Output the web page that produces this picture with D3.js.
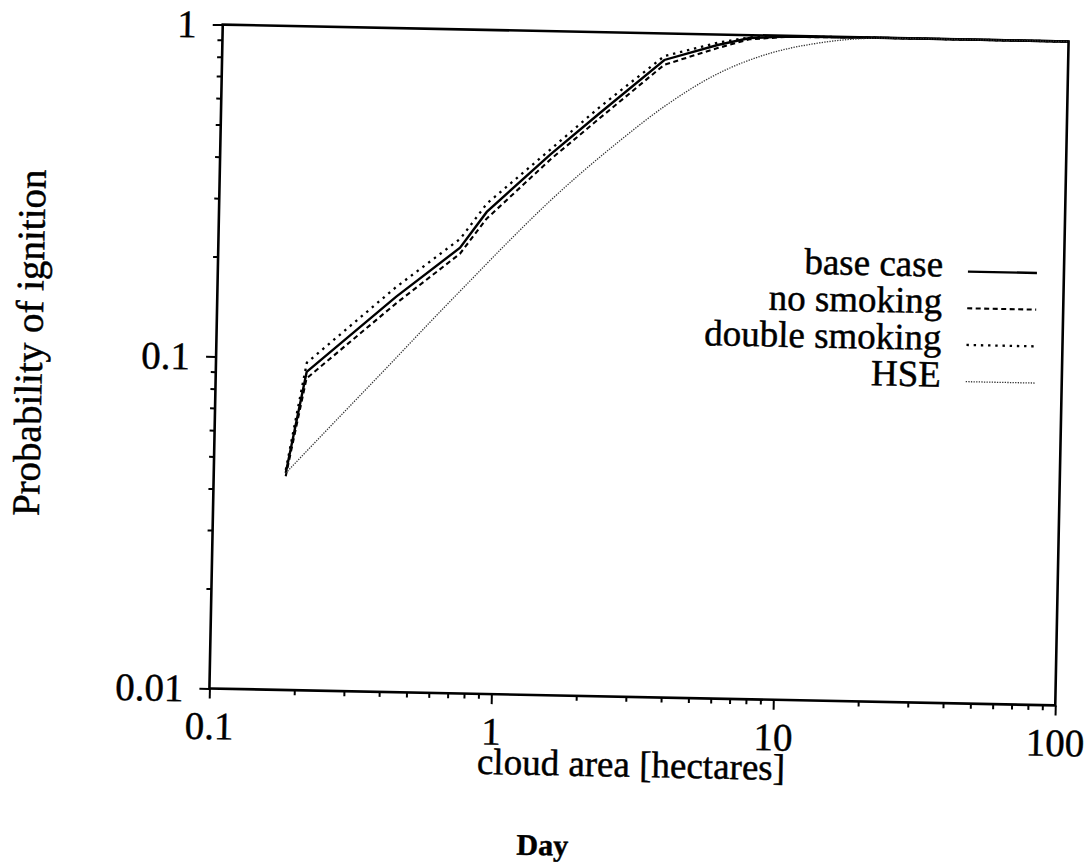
<!DOCTYPE html>
<html>
<head>
<meta charset="utf-8">
<script src="https://cdn.jsdelivr.net/npm/d3@7"></script>
<style>
  html, body { margin: 0; padding: 0; background: #fff; }
  svg { display: block; }
  text { font-family: "Liberation Serif", "Times New Roman", serif; fill: #000; stroke: #000; stroke-width: 0.45; }
</style>
</head>
<body>
<svg id="chart" width="1092" height="868"></svg>
<script>
// Axis ticks and labels
const areaTicks = [0.1, 1, 10, 100];
const areaTickLabels = ["0.1", "1", "10", "100"];
const probTicks = [0.01, 0.1, 1];
const probTickLabels = ["0.01", "0.1", "1"];

// Cloud area [hectares] vs probability of ignition, per scenario
const caseArea = [0.18, 0.21, 0.43, 0.72, 0.89, 1.48, 2.2, 3.7, 5.7, 7.4, 10, 20, 100];
const baseCase = [0.045, 0.091, 0.155, 0.22, 0.283, 0.425, 0.57, 0.832, 0.93, 0.98, 0.995, 1, 1];
const noSmoking = [0.044, 0.087, 0.148, 0.211, 0.27, 0.41, 0.55, 0.805, 0.91, 0.972, 0.993, 1, 1];
const doubleSmoking = [0.046, 0.097, 0.166, 0.234, 0.30, 0.44, 0.595, 0.855, 0.945, 0.985, 0.997, 1, 1];

const hseArea = [0.18, 0.25, 0.4, 0.6, 0.8, 1.0, 1.5, 2.55, 3.8, 5.7, 8.6, 12.9, 16.8, 22, 30, 100];
const hse = [0.045, 0.061, 0.094, 0.137, 0.178, 0.218, 0.31, 0.465, 0.61, 0.76, 0.88, 0.955, 0.985, 0.998, 1, 1];

const seriesNames = ["base case", "no smoking", "double smoking", "HSE"];

const plot = { left: 216, right: 1062, top: 33, bottom: 697 };
const cx = (plot.left + plot.right) / 2, cy = (plot.top + plot.bottom) / 2;

const svg = d3.select("#chart");
svg.append("rect").attr("width", 1092).attr("height", 868).attr("fill", "#fff");

// whole page sits slightly tilted on the sheet
const g = svg.append("g").attr("transform", `rotate(1.15,${cx},${cy})`);

const x = d3.scaleLog().domain([0.1, 100]).range([plot.left, plot.right]);
const y = d3.scaleLog().domain([0.01, 1]).range([plot.bottom, plot.top]);

const minorX = [];
[0.1, 1, 10].forEach(d => { for (let k = 2; k <= 9; k++) minorX.push(+(d * k).toPrecision(3)); });
const minorY = [];
[0.01, 0.1].forEach(d => { for (let k = 2; k <= 9; k++) minorY.push(+(d * k).toPrecision(3)); });

// Minor ticks
g.append("g").attr("transform", `translate(0,${plot.bottom})`)
  .call(d3.axisBottom(x).tickValues(minorX).tickSize(5).tickFormat(""))
  .call(a => a.select(".domain").remove())
  .call(a => a.selectAll("line").attr("stroke", "#000").attr("stroke-width", 2));
g.append("g").attr("transform", `translate(${plot.left},0)`)
  .call(d3.axisLeft(y).tickValues(minorY).tickSize(5).tickFormat(""))
  .call(a => a.select(".domain").remove())
  .call(a => a.selectAll("line").attr("stroke", "#000").attr("stroke-width", 2));

// Major ticks with labels
g.append("g").attr("transform", `translate(0,${plot.bottom})`)
  .call(d3.axisBottom(x).tickValues(areaTicks).tickSize(10).tickPadding(13)
    .tickFormat((d, i) => areaTickLabels[i]))
  .call(a => a.select(".domain").remove())
  .call(a => a.selectAll("line").attr("stroke", "#000").attr("stroke-width", 2))
  .call(a => a.selectAll("text").attr("font-size", 39)
    .attr("font-family", "Liberation Serif").attr("fill", "#000"));
g.append("g").attr("transform", `translate(${plot.left},0)`)
  .call(d3.axisLeft(y).tickValues(probTicks).tickSize(10).tickPadding(16)
    .tickFormat((d, i) => probTickLabels[i]))
  .call(a => a.select(".domain").remove())
  .call(a => a.selectAll("line").attr("stroke", "#000").attr("stroke-width", 2))
  .call(a => a.selectAll("text").attr("font-size", 39).attr("dy", "0.33em")
    .attr("font-family", "Liberation Serif").attr("fill", "#000"));

// Plot frame
g.append("rect")
  .attr("x", plot.left).attr("y", plot.top)
  .attr("width", plot.right - plot.left).attr("height", plot.bottom - plot.top)
  .attr("fill", "none").attr("stroke", "#000").attr("stroke-width", 2.6);

// Curves
const styles = [
  { w: 2.4, dash: null, color: "#000" },
  { w: 2.1, dash: "5,3.5", color: "#000" },
  { w: 2.3, dash: "2.4,4.8", color: "#000" },
  { w: 1.3, dash: "1.3,1.3", color: "#333" }
];
const series = [
  { xs: caseArea, ys: baseCase, curve: d3.curveLinear },
  { xs: caseArea, ys: noSmoking, curve: d3.curveLinear },
  { xs: caseArea, ys: doubleSmoking, curve: d3.curveLinear },
  { xs: hseArea, ys: hse, curve: d3.curveMonotoneX }
];

series.forEach((s, i) => {
  const pts = s.xs.map((a, j) => [a, s.ys[j]]);
  const line = d3.line().x(d => x(d[0])).y(d => y(d[1])).curve(s.curve);
  g.append("path").datum(pts)
    .attr("d", line)
    .attr("fill", "none")
    .attr("stroke", styles[i].color)
    .attr("stroke-width", styles[i].w)
    .attr("stroke-dasharray", styles[i].dash);
});

// Legend
const legend = g.append("g");
const legTop = 265, legStep = 36.7, textRight = 941, lineX0 = 966, lineX1 = 1035;
seriesNames.forEach((name, i) => {
  const ly = legTop + i * legStep;
  legend.append("text")
    .attr("x", textRight).attr("y", ly + 5.5)
    .attr("text-anchor", "end").attr("font-size", 37)
    .text(name);
  legend.append("line")
    .attr("x1", lineX0).attr("x2", lineX1).attr("y1", ly).attr("y2", ly)
    .attr("stroke", styles[i].color).attr("stroke-width", styles[i].w)
    .attr("stroke-dasharray", styles[i].dash);
});

// Axis titles
g.append("text")
  .attr("x", cx).attr("y", plot.bottom + 80)
  .attr("text-anchor", "middle").attr("font-size", 37)
  .text("cloud area [hectares]");

g.append("text")
  .attr("transform", `translate(42,${cy - 10}) rotate(-90)`)
  .attr("text-anchor", "middle").attr("font-size", 39)
  .text("Probability of ignition");

g.append("text")
  .attr("x", 552).attr("y", 857)
  .attr("text-anchor", "middle").attr("font-size", 30).attr("font-weight", "bold")
  .text("Day");
</script>
</body>
</html>
